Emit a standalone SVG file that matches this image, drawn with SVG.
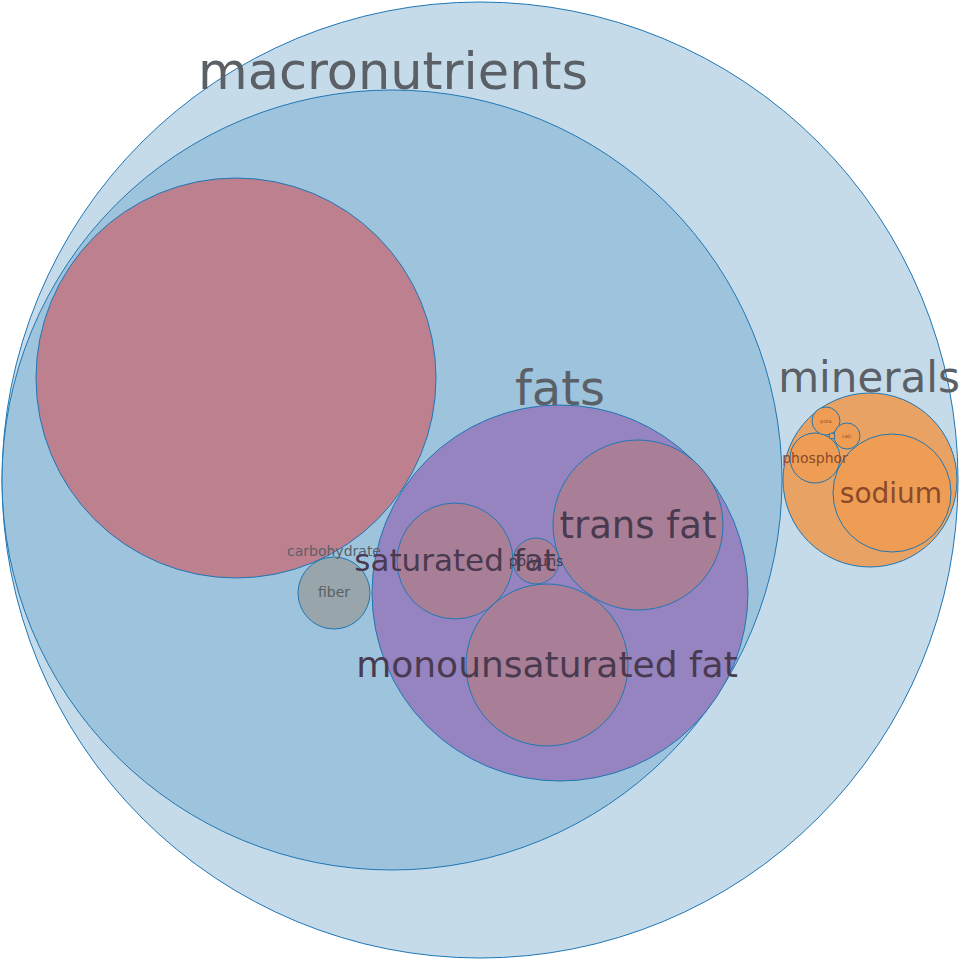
<svg xmlns="http://www.w3.org/2000/svg" width="960" height="960" viewBox="0 0 960 960">
<style>
circle{stroke:#1f77b4;stroke-width:1}
text{font-family:"DejaVu Sans",sans-serif;text-anchor:middle;fill:#5a6066}
.d{fill:#4a3a50}
.m{fill:#8a4a2a}
</style>
<rect width="960" height="960" fill="#fff"/>
<g id="root"><circle cx="480" cy="480" r="478" fill="#c6dbea"/></g>
<g id="macronutrients"><circle cx="392" cy="480" r="390" fill="#9ec3dd"/></g>
<g id="carbohydrate"><circle cx="236" cy="378" r="200" fill="#bd808f"/></g>
<g id="fiber"><circle cx="334" cy="593" r="36" fill="#98a5aa"/><text x="334" y="597" font-size="14">fiber</text></g>
<g id="fats"><circle cx="560" cy="593" r="188" fill="#9584c0"/></g>
<g id="trans"><circle cx="638" cy="525" r="85" fill="#a97f98"/></g>
<g id="saturated"><circle cx="455" cy="561" r="58" fill="#a97f98"/></g>
<g id="polyuns"><circle cx="536" cy="561" r="23" fill="#a97f98"/></g>
<g id="mono"><circle cx="547" cy="665" r="81" fill="#a97f98"/></g>
<g id="minerals"><circle cx="870" cy="480" r="87" fill="#e8a364"/></g>
<g id="sodium"><circle cx="892" cy="493" r="59" fill="#ef9d55"/></g>
<g id="phosphor"><circle cx="815" cy="458" r="25" fill="#ef9d55"/></g>
<g id="pota"><circle cx="826" cy="421" r="14" fill="#ef9d55"/><text x="826" y="423" font-size="5" class="m">pota</text></g>
<g id="calc"><circle cx="847" cy="436" r="13" fill="#ef9d55"/><text x="847" y="438" font-size="5" class="m">calc</text></g>
<g id="tiny"><circle cx="832" cy="436" r="3" fill="#ef9d55"/></g>
<g id="connectors"></g>
<g id="labels">
<text x="393" y="89" font-size="51">macronutrients</text>
<text x="560" y="405" font-size="48">fats</text>
<text x="869" y="392" font-size="42">minerals</text>
<text x="334" y="556" font-size="14" fill="#8a4a55">carbohydrate</text>
<text x="638" y="538" font-size="37" class="d">trans fat</text>
<text x="455" y="571" font-size="31" class="d">saturated fat</text>
<text x="536" y="566" font-size="14" class="d">polyuns</text>
<text x="547" y="677" font-size="36" class="d">monounsaturated fat</text>
<text x="891" y="503" font-size="28" class="m">sodium</text>
<text x="815" y="463" font-size="14" class="m">phosphor</text>
</g>
</svg>
